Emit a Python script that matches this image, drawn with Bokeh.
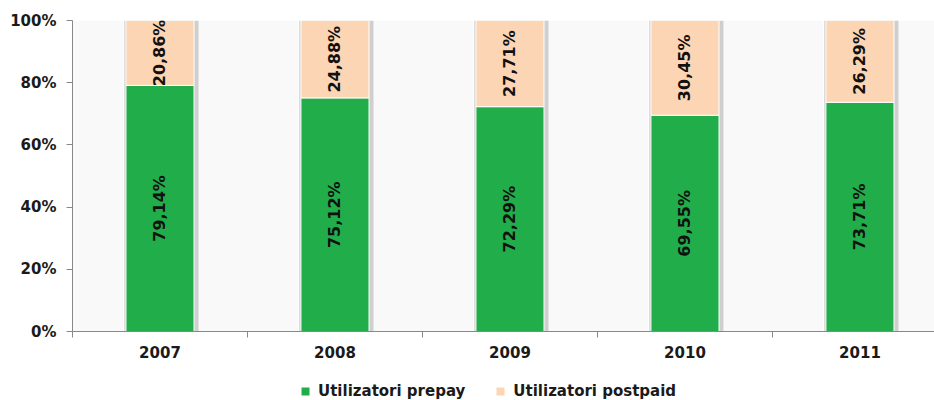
from bokeh.plotting import figure
from bokeh.layouts import column
from bokeh.models import (Range1d, FixedTicker, ColumnDataSource, Legend, LegendItem,
                          BoxAnnotation)
from bokeh.core.properties import value
from bokeh.embed import file_html
from bokeh.resources import INLINE

years = ["2007", "2008", "2009", "2010", "2011"]
prepay = [79.14, 75.12, 72.29, 69.55, 73.71]
postpaid = [20.86, 24.88, 27.71, 30.45, 26.29]
prepay_labels = ["79,14%", "75,12%", "72,29%", "69,55%", "73,71%"]
postpaid_labels = ["20,86%", "24,88%", "27,71%", "30,45%", "26,29%"]
series_names = ["Utilizatori prepay", "Utilizatori postpaid"]
y_ticks = [0, 20, 40, 60, 80, 100]

GREEN = "#22ad4b"
PEACH = "#fcd5b4"
FONT = "DejaVu Sans"
TXT = "#1a1a1a"

x = [i + 0.5 for i in range(len(years))]
total = [a + b for a, b in zip(prepay, postpaid)]
src = ColumnDataSource(dict(
    x=x,
    xs=[v + 0.008 for v in x],
    prepay=prepay,
    total=total,
    pre_mid=[v / 2 for v in prepay],
    post_mid=[a + b / 2 for a, b in zip(prepay, postpaid)],
    pre_lab=prepay_labels,
    post_lab=postpaid_labels,
    zero=[0] * len(years),
))

p = figure(width=934, height=370, output_backend="svg", toolbar_location=None,
           x_range=Range1d(0, 4.926), y_range=Range1d(0, 100),
           min_border_left=72, min_border_right=0, min_border_top=20, min_border_bottom=39)
p.outline_line_color = None
p.xgrid.grid_line_color = None
p.ygrid.grid_line_color = None

# faint background bands between bars
for i in range(len(years) + 1):
    p.add_layout(BoxAnnotation(left=i - 0.29, right=i + 0.29, fill_color="#f9f9f9",
                               fill_alpha=1.0, line_color=None, level="underlay"))

bw = 0.389
p.vbar(x="xs", top="total", bottom="zero", width=bw + 0.035, source=src,
       fill_color="#cfcfcf", line_color=None)
p.vbar(x="x", top="prepay", bottom="zero", width=bw, source=src,
       fill_color=GREEN, line_color="white", line_width=1)
p.vbar(x="x", top="total", bottom="prepay", width=bw, source=src,
       fill_color=PEACH, line_color="white", line_width=1)

p.text(x="x", y="pre_mid", text="pre_lab", source=src, angle=1.5708,
       text_align="center", text_baseline="middle", text_font=value(FONT),
       text_font_style="bold", text_font_size="16px", text_color="#111111")
p.text(x="x", y="post_mid", text="post_lab", source=src, angle=1.5708,
       text_align="center", text_baseline="middle", text_font=value(FONT),
       text_font_style="bold", text_font_size="16px", text_color="#111111")

# axes
p.xaxis.ticker = FixedTicker(ticks=x, minor_ticks=[0, 1, 2, 3, 4, 5])
p.xaxis.major_label_overrides = {v: y for v, y in zip(x, years)}
p.xaxis.major_tick_line_color = None
p.xaxis.minor_tick_line_color = "#888888"
p.xaxis.minor_tick_out = 6
p.xaxis.minor_tick_in = 0
p.xaxis.axis_line_color = "#888888"
p.xaxis.major_label_standoff = 8
p.xaxis.major_label_text_font = FONT
p.xaxis.major_label_text_font_style = "bold"
p.xaxis.major_label_text_font_size = "15px"
p.xaxis.major_label_text_color = TXT

p.yaxis.ticker = FixedTicker(ticks=y_ticks)
p.yaxis.major_label_overrides = {v: f"{v}%" for v in y_ticks}
p.yaxis.minor_tick_line_color = None
p.yaxis.major_tick_line_color = "#888888"
p.yaxis.major_tick_out = 6
p.yaxis.major_tick_in = 0
p.yaxis.axis_line_color = "#888888"
p.yaxis.major_label_standoff = 10
p.yaxis.major_label_text_font = FONT
p.yaxis.major_label_text_font_style = "bold"
p.yaxis.major_label_text_font_size = "15px"
p.yaxis.major_label_text_color = TXT

# legend strip below the chart (zero-height proxy bars carry the swatch colours)
lg = figure(width=934, height=30, output_backend="svg", toolbar_location=None,
            x_range=Range1d(0, 1), y_range=Range1d(0, 1),
            x_axis_type=None, y_axis_type=None,
            min_border_left=0, min_border_right=0, min_border_top=0, min_border_bottom=0)
lg.outline_line_color = None
lg.xgrid.grid_line_color = None
lg.ygrid.grid_line_color = None
proxy = ColumnDataSource(dict(x=[0.5], top=[0]))
s1 = lg.vbar(x="x", top="top", width=0.0, source=proxy, fill_color=GREEN, line_color=None)
s2 = lg.vbar(x="x", top="top", width=0.0, source=proxy, fill_color=PEACH, line_color=None)
legend = Legend(items=[LegendItem(label=series_names[0], renderers=[s1]),
                       LegendItem(label=series_names[1], renderers=[s2])],
                orientation="horizontal", location=(228, 0),
                label_text_font=FONT, label_text_font_style="bold",
                label_text_font_size="15px", label_text_color=TXT,
                glyph_width=10, glyph_height=10, label_height=16,
                label_standoff=8, spacing=30, padding=0,
                margin=0, border_line_color=None, background_fill_alpha=0)
lg.add_layout(legend)

open("out.html", "w").write(file_html(column(p, lg, spacing=0), INLINE))
